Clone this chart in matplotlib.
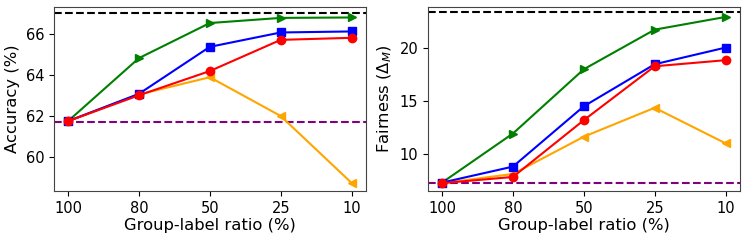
import numpy as np
import matplotlib
matplotlib.use('Agg')
import matplotlib.pyplot as plt

# group-label ratios (categorical x axis)
ratios = ['100', '80', '50', '25', '10']

# accuracy (%)
acc_green = [61.75, 64.82, 66.53, 66.78, 66.80]
acc_blue = [61.75, 63.08, 65.37, 66.07, 66.12]
acc_red = [61.75, 63.01, 64.19, 65.71, 65.81]
acc_orange = [61.75, 63.05, 63.89, 62.00, 58.74]
acc_upper = 67.04
acc_lower = 61.72

# fairness (Delta_M)
fair_green = [7.35, 11.95, 17.97, 21.68, 22.87]
fair_blue = [7.35, 8.85, 14.50, 18.44, 20.00]
fair_red = [7.30, 7.88, 13.20, 18.25, 18.82]
fair_orange = [7.30, 8.16, 11.65, 14.36, 11.03]
fair_upper = 23.33
fair_lower = 7.35

x = np.arange(len(ratios))

fig = plt.figure(figsize=(7.48, 2.42), dpi=100)
ax1 = fig.add_axes([0.072, 0.211, 0.417, 0.760])
ax2 = fig.add_axes([0.572, 0.211, 0.417, 0.760])

def draw(ax, g, b, r, o, up, lo):
    ax.axhline(up, color='black', linestyle='--', linewidth=1.5)
    ax.axhline(lo, color='purple', linestyle='--', linewidth=1.5)
    ax.plot(x, o, color='orange', marker='<', markersize=6, linewidth=1.5)
    ax.plot(x, g, color='green', marker='>', markersize=6, linewidth=1.5)
    ax.plot(x, b, color='blue', marker='s', markersize=6, linewidth=1.5)
    ax.plot(x, r, color='red', marker='o', markersize=6, linewidth=1.5)
    ax.set_xticks(x)
    ax.set_xticklabels(ratios)
    ax.set_xlabel('Group-label ratio (%)', fontsize=11.8, labelpad=2)
    ax.tick_params(labelsize=10.5)
    for s in ax.spines.values():
        s.set_color('#444444')

draw(ax1, acc_green, acc_blue, acc_red, acc_orange, acc_upper, acc_lower)
ax1.set_ylim(58.35, 67.31)
ax1.set_yticks([60, 62, 64, 66])
ax1.set_ylabel('Accuracy (%)', fontsize=11.8)

draw(ax2, fair_green, fair_blue, fair_red, fair_orange, fair_upper, fair_lower)
ax2.set_ylim(6.57, 23.8)
ax2.set_yticks([10, 15, 20])
ax2.set_ylabel(r'Fairness ($\Delta_M$)', fontsize=11.8)

fig.savefig('out.png', dpi=100)
